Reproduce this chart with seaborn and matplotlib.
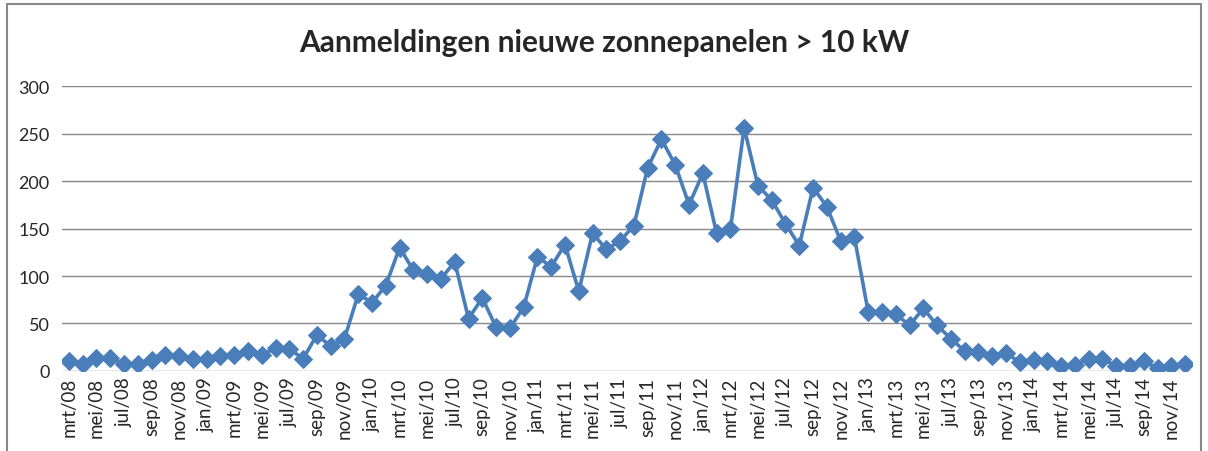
import numpy as np
import pandas as pd
import matplotlib
matplotlib.use("Agg")
import matplotlib.pyplot as plt
import seaborn as sns

maanden = ['jan', 'feb', 'mrt', 'apr', 'mei', 'jun', 'jul', 'aug', 'sep', 'okt', 'nov', 'dec']

waarden_2008 = [10, 7, 14, 14, 7, 7, 12, 17, 16, 13]  # vanaf mrt
waarden_2009 = [13, 16, 17, 21, 17, 24, 23, 13, 38, 26, 34, 81]
waarden_2010 = [72, 90, 130, 106, 102, 97, 115, 55, 77, 46, 45, 67]
waarden_2011 = [120, 110, 133, 84, 145, 128, 137, 153, 214, 244, 217, 175]
waarden_2012 = [208, 145, 149, 256, 195, 180, 155, 132, 193, 173, 137, 141]
waarden_2013 = [62, 62, 60, 48, 66, 48, 34, 21, 20, 16, 19, 9]
waarden_2014 = [12, 11, 5, 6, 13, 13, 5, 5, 10, 3, 5, 7]

labels = [f"{m}/08" for m in maanden[2:]]
for jaar in range(9, 15):
    labels += [f"{m}/{jaar:02d}" for m in maanden]

aantallen = (waarden_2008 + waarden_2009 + waarden_2010 + waarden_2011
             + waarden_2012 + waarden_2013 + waarden_2014)

df = pd.DataFrame({'idx': range(len(aantallen)), 'maand': labels, 'aantal': aantallen})

sns.set_style("white")
plt.rcParams['font.family'] = ['Lato', 'DejaVu Sans']

fig = plt.figure(figsize=(12.08, 4.52), dpi=100)
ax = fig.add_axes([0.0513, 0.177, 0.9355, 0.6305])

blauw = '#4a7ebb'
sns.lineplot(data=df, x='idx', y='aantal', ax=ax, color=blauw, linewidth=2.6,
             marker='D', markersize=9.5, markeredgecolor=blauw, markerfacecolor=blauw)

ax.set_xlim(-0.5, len(aantallen) - 0.5)
ax.set_ylim(0, 300)
ax.set_yticks(range(0, 301, 50))
ax.yaxis.grid(True, color='#888888', linewidth=1)
ax.set_axisbelow(True)
ax.set_xticks(df['idx'][::2])
ax.set_xticklabels(df['maand'][::2], rotation=90, fontsize=13.5)
ax.tick_params(axis='y', labelsize=13, length=0, pad=9)
ax.tick_params(axis='x', length=0, pad=4)
for s in ax.spines.values():
    s.set_visible(False)
ax.set_xlabel('')
ax.set_ylabel('')

fig.text(0.5, 0.905, 'Aanmeldingen nieuwe zonnepanelen > 10 kW', ha='center', va='center',
         fontsize=21.5, fontweight='bold')

# rand om de grafiek
fig.add_artist(plt.Rectangle((0.006, -0.01), 0.988, 0.998, transform=fig.transFigure,
                             fill=False, edgecolor='#888888', linewidth=1.5))

fig.savefig('out.png', dpi=100)
